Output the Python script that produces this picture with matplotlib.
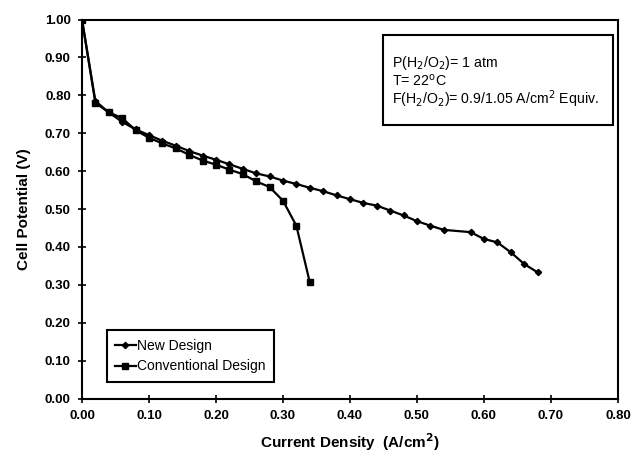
import matplotlib.pyplot as plt
from matplotlib.patches import Rectangle

plt.rcParams['font.family'] = ['Liberation Sans', 'DejaVu Sans']

# Current density (A/cm^2) and cell potential (V)
new_x = [0.00, 0.02, 0.04, 0.06, 0.08, 0.10, 0.12, 0.14, 0.16, 0.18, 0.20,
         0.22, 0.24, 0.26, 0.28, 0.30, 0.32, 0.34, 0.36, 0.38, 0.40, 0.42,
         0.44, 0.46, 0.48, 0.50, 0.52, 0.54, 0.58, 0.60, 0.62, 0.64, 0.66, 0.68]
new_y = [1.00, 0.785, 0.755, 0.730, 0.710, 0.695, 0.680, 0.667, 0.653, 0.641, 0.630,
         0.618, 0.606, 0.594, 0.586, 0.575, 0.566, 0.556, 0.547, 0.536, 0.526, 0.516,
         0.509, 0.496, 0.483, 0.468, 0.456, 0.445, 0.439, 0.421, 0.412, 0.386, 0.355, 0.333]

conv_x = [0.00, 0.02, 0.04, 0.06, 0.08, 0.10, 0.12, 0.14, 0.16, 0.18, 0.20,
          0.22, 0.24, 0.26, 0.28, 0.30, 0.32, 0.34]
conv_y = [1.00, 0.780, 0.755, 0.740, 0.708, 0.688, 0.673, 0.660, 0.643, 0.628, 0.617,
          0.604, 0.592, 0.573, 0.558, 0.522, 0.456, 0.307]

x_ticks = [0.0, 0.1, 0.2, 0.3, 0.4, 0.5, 0.6, 0.7, 0.8]
y_ticks = [0.0, 0.1, 0.2, 0.3, 0.4, 0.5, 0.6, 0.7, 0.8, 0.9, 1.0]

info_lines = ['P(H$_2$/O$_2$)= 1 atm',
              'T= 22$^{\\mathrm{o}}$C',
              'F(H$_2$/O$_2$)= 0.9/1.05 A/cm$^2$ Equiv.']

fig = plt.figure(figsize=(6.32, 4.53), dpi=100)
ax = fig.add_axes([0.1297, 0.1203, 0.848, 0.8366])

ax.plot(new_x, new_y, color='black', lw=1.6, marker='D', ms=3.2, label='New Design')
ax.plot(conv_x, conv_y, color='black', lw=1.6, marker='s', ms=4.2, label='Conventional Design')

ax.set_xlim(0, 0.8)
ax.set_ylim(0, 1.0)
ax.set_xticks(x_ticks)
ax.set_yticks(y_ticks)
ax.set_xticklabels([f'{v:.2f}' for v in x_ticks])
ax.set_yticklabels([f'{v:.2f}' for v in y_ticks])
ax.tick_params(direction='inout', length=6, width=1.2, labelsize=9.5, pad=5)
for lab in ax.get_xticklabels() + ax.get_yticklabels():
    lab.set_fontweight('bold')
for s in ax.spines.values():
    s.set_linewidth(1.5)

ax.set_xlabel('Current Density  (A/cm$^\\mathbf{2}$)', fontsize=11, fontweight='bold', labelpad=7)
ax.set_ylabel('Cell Potential (V)', fontsize=11, fontweight='bold', labelpad=10)

leg = ax.legend(loc='lower left', bbox_to_anchor=(0.046, 0.044), fontsize=10,
                handlelength=1.5, handletextpad=0.1, fancybox=False,
                edgecolor='black', framealpha=1, borderpad=0.6, labelspacing=0.5,
                borderaxespad=0)
leg.get_frame().set_linewidth(1.5)

# condition box, upper right
ax.add_patch(Rectangle((0.5616, 0.7216), 0.4291, 0.2374, transform=ax.transAxes,
                       fc='white', ec='black', lw=1.5, zorder=5))
for txt, ty in zip(info_lines, [0.875, 0.8245, 0.777]):
    ax.text(0.578, ty, txt, transform=ax.transAxes, fontsize=10.2, va='baseline',
            zorder=6)

fig.savefig('out.png', dpi=100)
